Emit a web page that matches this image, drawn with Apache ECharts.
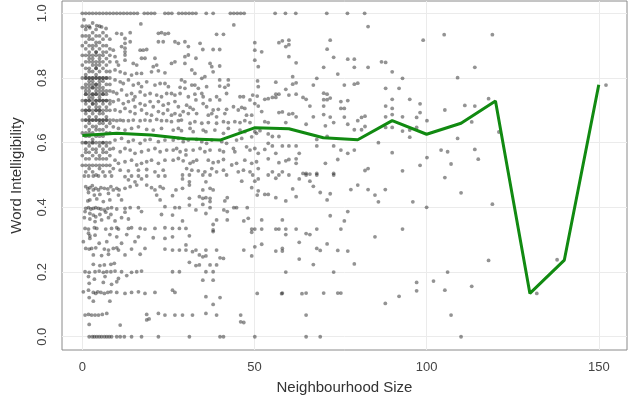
<!DOCTYPE html>
<html><head><meta charset="utf-8">
<script src="https://cdn.jsdelivr.net/npm/echarts@6/dist/echarts.min.js"></script>
<style>html,body{margin:0;padding:0;background:#fff}#c{width:640px;height:401px}</style>
</head><body><div id="c"></div>
<script>
// ---- tick labels ----
const xTicks = [0, 50, 100, 150];
const yTicks = [0.0, 0.2, 0.4, 0.6, 0.8, 1.0];

// ---- smoothed line (green) ----
const lineX = [0, 10, 20, 30, 40, 50, 60, 70, 80, 90, 100, 110, 120, 130, 140, 150];
const lineY = [0.622, 0.629, 0.624, 0.612, 0.608, 0.646, 0.643, 0.615, 0.609, 0.668, 0.626, 0.66, 0.729, 0.134, 0.237, 0.779];

// ---- scatter: dense core columns, x = 0..8, y >= 0.5 ----
const coreColumns = [
  [0, [0.96, 0.93, 0.9, 0.87, 0.84, 0.8, 0.77, 0.73, 0.7, 0.67, 0.63, 0.6, 0.56, 0.53]],
  [1, [0.95, 0.93, 0.91, 0.89, 0.87, 0.85, 0.83, 0.81, 0.8, 0.78, 0.76, 0.75, 0.73, 0.72, 0.7, 0.69, 0.67, 0.65, 0.63, 0.62, 0.6, 0.58, 0.57, 0.55, 0.53, 0.51]],
  [2, [0.96, 0.93, 0.92, 0.9, 0.88, 0.86, 0.85, 0.83, 0.82, 0.8, 0.79, 0.77, 0.76, 0.74, 0.73, 0.71, 0.7, 0.68, 0.67, 0.66, 0.64, 0.62, 0.6, 0.59, 0.57, 0.55, 0.53, 0.52]],
  [3, [0.97, 0.94, 0.92, 0.9, 0.89, 0.87, 0.86, 0.84, 0.82, 0.8, 0.79, 0.78, 0.77, 0.75, 0.74, 0.73, 0.72, 0.7, 0.69, 0.67, 0.65, 0.63, 0.61, 0.6, 0.58, 0.56, 0.53, 0.51]],
  [4, [0.95, 0.93, 0.91, 0.9, 0.88, 0.87, 0.85, 0.84, 0.83, 0.81, 0.8, 0.78, 0.77, 0.76, 0.75, 0.73, 0.72, 0.71, 0.7, 0.68, 0.67, 0.65, 0.64, 0.62, 0.6, 0.58, 0.57, 0.55, 0.53, 0.5]],
  [5, [0.96, 0.93, 0.91, 0.89, 0.87, 0.86, 0.84, 0.82, 0.8, 0.79, 0.78, 0.76, 0.75, 0.74, 0.73, 0.71, 0.7, 0.69, 0.67, 0.66, 0.64, 0.62, 0.6, 0.59, 0.56, 0.55, 0.53, 0.52]],
  [6, [0.94, 0.92, 0.9, 0.88, 0.87, 0.85, 0.83, 0.8, 0.79, 0.77, 0.76, 0.75, 0.73, 0.72, 0.7, 0.69, 0.67, 0.66, 0.64, 0.62, 0.6, 0.58, 0.57, 0.55, 0.53, 0.51]],
  [7, [0.93, 0.9, 0.88, 0.86, 0.84, 0.82, 0.8, 0.78, 0.76, 0.75, 0.73, 0.71, 0.7, 0.68, 0.67, 0.65, 0.63, 0.6, 0.59, 0.57, 0.55, 0.53]],
  [8, [0.92, 0.89, 0.87, 0.85, 0.82, 0.8, 0.78, 0.76, 0.73, 0.72, 0.7, 0.67, 0.66, 0.63, 0.6, 0.58, 0.56, 0.53, 0.51]]
];

// ---- scatter: repeated values in the darkest part of the core ----
const coreDark = [
  [1, [0.8, 0.77, 0.75, 0.73, 0.7, 0.67, 0.6]],
  [2, [0.87, 0.8, 0.78, 0.75, 0.73, 0.7, 0.67, 0.63]],
  [3, [0.85, 0.8, 0.77, 0.75, 0.72, 0.67, 0.6]],
  [4, [0.88, 0.83, 0.8, 0.78, 0.75, 0.73, 0.7, 0.67]],
  [5, [0.85, 0.8, 0.77, 0.73, 0.7, 0.67]],
  [6, [0.8, 0.75, 0.73, 0.67, 0.6]],
  [7, [0.8, 0.73, 0.67]]
];

// ---- scatter: points at intelligibility 1.0 ----
const topRowX = [0, 1, 2, 3, 4, 5, 6, 7, 8, 9, 10, 11, 12, 13, 14, 15, 16, 18, 19, 20, 21, 24, 25, 26, 28, 29, 30, 31, 32, 33, 36, 38, 43, 44, 45, 46, 47, 56, 59, 62, 71, 77, 82];

// ---- scatter: x 9-25, upper half ----
const upperLeft = [
  [17.0,0.967],[10.0,0.938],[11.4,0.936],[13.9,0.940],[12.4,0.922],[12.4,0.907],[11.4,0.897],[13.9,0.912],[9.0,0.886],
  [12.4,0.892],[12.4,0.881],[12.4,0.871],[12.4,0.855],[9.5,0.866],[10.0,0.850],[10.5,0.840],[16.8,0.886],[17.7,0.886],[18.7,0.888],
  [17.2,0.861],[18.2,0.861],[22.1,0.938],[23.0,0.940],[24.0,0.936],[25.0,0.938],[22.1,0.912],[23.5,0.912],[21.1,0.861],
  [14.8,0.845],[15.8,0.840],[20.6,0.835],[21.6,0.840],[9.5,0.825],[11.0,0.819],[12.4,0.814],[14.3,0.809],[15.8,0.814],[17.2,0.814],
  [20.1,0.819],[22.1,0.822],[24.0,0.816],[9.5,0.794],[11.0,0.788],[11.9,0.783],[13.4,0.794],[14.8,0.778],[16.3,0.783],[17.2,0.773],[18.7,0.788],
  [21.1,0.778],[22.6,0.783],[24.0,0.783],[25.0,0.773],[9.0,0.757],[10.0,0.752],[11.4,0.763],[12.9,0.747],[14.3,0.752],[15.3,0.742],[16.8,0.757],
  [18.2,0.747],[19.7,0.752],[21.6,0.747],[23.0,0.742],[24.5,0.752],[9.0,0.727],[10.5,0.732],[11.9,0.721],[13.4,0.727],[14.8,0.732],[15.3,0.711],
  [16.8,0.721],[18.2,0.716],[19.7,0.727],[20.6,0.711],[22.1,0.727],[23.5,0.716],[25.0,0.721],[9.5,0.701],[11.0,0.696],[12.4,0.706],[13.9,0.696],
  [15.3,0.690],[17.2,0.701],[18.7,0.690],[20.1,0.685],[22.1,0.696],[23.5,0.690],[24.8,0.701],
  [9.0,0.670],[10.0,0.668],[11.0,0.670],[11.9,0.668],[13.4,0.668],[14.8,0.670],[16.8,0.668],[18.2,0.670],[19.7,0.668],[21.6,0.672],[23.0,0.668],[24.5,0.668],
  [9.0,0.649],[10.5,0.644],[12.4,0.639],[14.3,0.644],[16.3,0.649],[18.7,0.641],[20.6,0.639],[23.0,0.644],
  [9.5,0.608],[11.4,0.613],[13.4,0.603],[14.8,0.608],[16.8,0.598],[18.2,0.608],[19.7,0.610],[22.1,0.603],[24.0,0.608],
  [9.0,0.582],[11.0,0.572],[12.4,0.582],[13.9,0.577],[15.3,0.567],[17.2,0.572],[19.2,0.577],[21.1,0.582],[22.6,0.572],[24.5,0.577],
  [9.5,0.546],[10.5,0.536],[12.4,0.541],[14.3,0.546],[15.8,0.531],[17.2,0.536],[18.7,0.541],[20.1,0.546],[22.1,0.536],[24.0,0.546],
  [9.0,0.520],[11.0,0.515],[13.4,0.513],[16.3,0.515],[18.7,0.517],[21.1,0.510],[23.5,0.515],
  [1.1,0.96],[2.2,0.955],[4.2,0.962],[5.6,0.958],[6.9,0.953],[0.5,0.98]
];

// ---- scatter: x 0-25, lower half ----
const lowerLeft = [
  [0.6,0.497],[1.8,0.497],[3.2,0.497],[4.7,0.497],[6.6,0.497],[8.5,0.497],[12.4,0.495],[14.3,0.497],[16.3,0.497],[18.7,0.497],[22.1,0.497],[24.0,0.497],
  [13.4,0.485],[15.3,0.479],[17.2,0.488],
  [1.0,0.464],[1.6,0.457],[2.2,0.461],[2.9,0.467],[3.2,0.454],[3.9,0.459],[4.7,0.454],[5.4,0.461],[6.4,0.459],[7.4,0.457],[8.3,0.464],[9.0,0.454],
  [10.0,0.459],[10.7,0.454],[12.4,0.459],[13.9,0.464],[15.8,0.469],[18.7,0.469],[20.1,0.461],[21.1,0.454],[22.6,0.464],[23.5,0.459],
  [1.8,0.446],[3.5,0.438],[5.1,0.440],[7.6,0.443],[10.5,0.438],[21.6,0.438],
  [1.6,0.420],[2.2,0.423],[4.2,0.426],[6.1,0.418],[8.0,0.423],[11.4,0.423],[22.6,0.423],
  [1.0,0.397],[1.8,0.399],[2.5,0.395],[3.2,0.397],[3.9,0.399],[4.7,0.397],[5.4,0.395],[6.4,0.392],[7.4,0.397],[8.5,0.399],[10.0,0.395],[12.4,0.397],[13.9,0.399],[16.3,0.399],[24.0,0.402],
  [0.8,0.387],[2.2,0.381],[3.2,0.376],[3.9,0.371],[5.1,0.378],[6.8,0.385],[8.3,0.378],[12.4,0.385],[17.2,0.387],[23.0,0.378],
  [0.6,0.368],[2.2,0.364],[3.7,0.356],[5.6,0.361],[7.6,0.368],[9.5,0.358],[11.4,0.368],[13.4,0.364],
  [0.8,0.335],[1.8,0.333],[3.5,0.337],[4.2,0.335],[6.8,0.333],[8.5,0.335],[10.0,0.337],[10.5,0.333],[13.4,0.335],[14.3,0.337],[16.8,0.335],[18.2,0.333],[21.1,0.335],[24.0,0.337],
  [1.8,0.320],[2.2,0.312],[2.2,0.304],[3.7,0.314],[8.0,0.316],[10.0,0.309],[12.9,0.316],[16.3,0.309],[20.6,0.306],[24.0,0.304],
  [0.3,0.294],[4.9,0.289],[7.1,0.294],[11.4,0.289],[15.3,0.294],
  [1.0,0.273],[2.0,0.271],[2.7,0.273],[3.9,0.275],[6.4,0.271],[7.6,0.268],[9.0,0.273],[10.0,0.275],[10.5,0.268],[14.3,0.271],[18.2,0.273],[24.0,0.271],
  [3.2,0.253],[5.6,0.251],[7.6,0.255],[12.4,0.253],[16.8,0.255],
  [3.2,0.224],[5.1,0.220],[6.4,0.222],[8.3,0.224],[9.3,0.227],
  [0.8,0.201],[2.0,0.199],[3.7,0.201],[4.9,0.203],[6.1,0.199],[7.1,0.201],[8.3,0.201],[9.5,0.203],[11.4,0.201],[14.3,0.199],[15.8,0.201],[17.2,0.203],
  [1.8,0.186],[3.5,0.178],[6.6,0.186],[10.5,0.180],[12.9,0.189],
  [2.0,0.165],[6.1,0.168],[8.5,0.162],[10.0,0.170],
  [0.3,0.139],[1.8,0.144],[3.2,0.137],[3.9,0.134],[4.5,0.139],[5.4,0.137],[6.4,0.134],[7.4,0.137],[8.3,0.139],[10.0,0.137],[12.4,0.134],[14.3,0.137],[16.3,0.139],[18.2,0.134],[21.1,0.137],
  [2.0,0.121],[3.2,0.110],[8.0,0.110],
  [0.8,0.067],[1.8,0.069],[2.7,0.067],[3.7,0.067],[4.7,0.067],[5.8,0.069],[7.1,0.072],[18.7,0.069],[18.7,0.052],[19.4,0.055],[22.1,0.072],[24.0,0.067],
  [2.0,0.038],[11.0,0.036],
  [2.0,0],[2.9,0],[3.5,0],[4.2,0],[4.9,0],[5.6,0],[6.4,0],[7.1,0],[7.8,0],[8.5,0],[10.0,0],[11.0,0],[12.2,0],[14.3,0],[17.2,0],[22.1,0]
];

// ---- scatter: x 25-53 ----
const middle = [
  [44.0,0.964],[39.0,0.935],[41.0,0.935],[26.9,0.912],[27.9,0.907],[29.8,0.912],[30.8,0.897],[34.2,0.907],[35.0,0.888],[38.0,0.888],[39.9,0.888],
  [50.1,0.909],[50.1,0.886],[52.1,0.881],[25.9,0.845],[26.9,0.850],[29.8,0.866],[30.8,0.871],[33.0,0.861],[37.1,0.845],[37.6,0.835],[38.0,0.819],
  [39.9,0.837],[29.8,0.845],[50.1,0.855],[51.1,0.835],[31.8,0.825],[32.7,0.814],[28.8,0.794],[29.8,0.788],[34.7,0.799],[35.6,0.804],[39.9,0.794],
  [42.4,0.794],[50.9,0.791],[51.1,0.773],[28.4,0.771],[29.8,0.768],[31.8,0.778],[32.7,0.778],[33.7,0.768],[36.1,0.773],[39.9,0.775],[41.4,0.771],
  [42.4,0.778],[25.9,0.752],[26.9,0.747],[28.4,0.752],[30.8,0.742],[32.7,0.750],[34.7,0.752],[35.1,0.742],[37.1,0.732],[39.0,0.742],[39.9,0.732],
  [41.9,0.752],[45.8,0.742],[46.8,0.742],[48.7,0.732],[49.5,0.747],[50.8,0.744],[26.9,0.727],[27.9,0.711],[30.3,0.716],[31.3,0.709],[32.2,0.703],
  [33.0,0.732],[35.1,0.721],[36.1,0.711],[38.0,0.701],[39.5,0.703],[41.9,0.703],[43.9,0.711],[45.3,0.701],[46.3,0.709],[47.2,0.706],[50.1,0.721],
  [51.1,0.713],[25.9,0.685],[26.9,0.690],[28.4,0.685],[29.3,0.696],[30.8,0.690],[33.2,0.690],[36.6,0.685],[37.6,0.690],[39.0,0.680],[41.4,0.690],
  [47.7,0.685],[49.2,0.685],[52.1,0.696],[25.9,0.665],[27.9,0.668],[28.8,0.670],[31.3,0.660],[32.7,0.665],[34.7,0.660],[36.6,0.662],[39.0,0.660],
  [41.0,0.665],[42.4,0.662],[44.3,0.665],[45.8,0.662],[47.2,0.668],[48.7,0.662],[26.4,0.639],[27.9,0.644],[28.8,0.637],[31.3,0.644],[32.2,0.634],
  [35.1,0.639],[35.9,0.634],[38.5,0.639],[41.0,0.629],[42.4,0.644],[45.8,0.639],[47.2,0.634],[50.1,0.634],[51.6,0.637],[26.4,0.608],[27.9,0.613],
  [29.3,0.603],[30.8,0.608],[33.2,0.610],[34.7,0.603],[36.1,0.598],[37.6,0.608],[40.5,0.603],[41.9,0.598],[44.8,0.608],[46.3,0.613],[49.2,0.618],
  [50.6,0.629],[26.4,0.577],[27.4,0.582],[28.4,0.572],[30.1,0.577],[30.1,0.562],[32.2,0.577],[34.2,0.582],[35.6,0.572],[37.1,0.577],[39.9,0.577],
  [41.0,0.572],[43.9,0.582],[44.3,0.572],[47.7,0.587],[48.7,0.577],[50.1,0.582],[51.1,0.567],[26.4,0.546],[27.9,0.551],[29.3,0.544],[31.3,0.536],
  [32.2,0.541],[33.2,0.546],[36.6,0.546],[38.0,0.538],[39.5,0.541],[41.0,0.548],[43.4,0.531],[44.8,0.536],[47.2,0.546],[49.2,0.536],[50.6,0.541],
  [30.3,0.520],[31.8,0.515],[33.7,0.513],[35.6,0.510],[37.6,0.520],[39.0,0.510],[41.0,0.515],[45.3,0.510],[46.8,0.515],[48.7,0.510],[51.1,0.520],
  [29.1,0.5],[31.1,0.5],[35.0,0.5],[37.1,0.5],[41.9,0.5],[49.5,0.5],[29.1,0.488],[31.1,0.479],[35.9,0.479],[46.3,0.481],[50.1,0.481],[51.1,0.488],
  [27.2,0.454],[29.1,0.459],[31.1,0.469],[35.0,0.454],[37.1,0.459],[38.0,0.454],[49.2,0.461],[51.1,0.451],[26.2,0.436],[31.1,0.428],[34.0,0.433],
  [35.0,0.428],[35.9,0.430],[37.1,0.428],[37.1,0.418],[41.4,0.420],[42.1,0.430],[50.8,0.438],[26.9,0.399],[28.2,0.399],[31.1,0.407],[33.0,0.392],
  [35.0,0.409],[37.1,0.399],[35.9,0.381],[41.1,0.392],[42.1,0.387],[44.0,0.399],[44.8,0.399],[47.9,0.399],[26.2,0.376],[29.1,0.358],[38.0,0.347],
  [39.0,0.361],[42.1,0.361],[46.9,0.358],[48.2,0.366],[49.2,0.333],[50.1,0.333],[49.2,0.323],[52.1,0.361],[52.1,0.333],[26.2,0.335],[28.2,0.335],
  [30.1,0.335],[38.0,0.330],[26.2,0.309],[31.1,0.312],[38.0,0.325],[30.1,0.284],[30.1,0.268],[28.2,0.268],[26.2,0.268],[32.0,0.263],[33.0,0.268],
  [34.0,0.253],[35.0,0.247],[35.9,0.250],[35.9,0.268],[39.0,0.268],[40.0,0.244],[41.0,0.242],[31.1,0.230],[33.0,0.220],[34.0,0.222],[37.1,0.222],
  [39.0,0.222],[46.9,0.268],[49.2,0.250],[50.1,0.278],[52.1,0.286],[26.2,0.201],[28.2,0.201],[35.9,0.201],[38.0,0.201],[35.0,0.175],[38.0,0.175],
  [26.2,0.144],[26.9,0.137],[50.8,0.134],[35.9,0.124],[40.0,0.121],[38.0,0.100],[26.9,0.067],[29.1,0.067],[32.0,0.067],[35.9,0.072],[39.0,0.067],
  [46.0,0.067],[46.0,0.046],[46.9,0.044],[31.1,0],[40.0,0],[41.0,0],[50.1,0]
];

// ---- scatter: x 53-105 ----
const sparseRight = [
  [83.0,0.959],[99.0,0.917],[57.1,0.909],[58.1,0.915],[60.0,0.917],[60.0,0.903],[59.1,0.897],[72.0,0.917],[71.1,0.889],[60.0,0.866],[62.1,0.847],
  [73.0,0.864],[77.1,0.858],[79.0,0.858],[86.9,0.850],[88.1,0.848],[70.1,0.833],[79.0,0.833],[83.0,0.833],[90.0,0.819],[74.2,0.812],[61.1,0.804],
  [68.1,0.799],[93.0,0.799],[56.2,0.787],[61.1,0.781],[62.1,0.785],[67.1,0.778],[76.1,0.778],[79.0,0.781],[80.0,0.784],[88.1,0.768],[92.0,0.768],
  [59.1,0.765],[70.1,0.753],[71.1,0.750],[56.2,0.750],[57.1,0.750],[55.2,0.740],[56.2,0.740],[60.0,0.747],[62.1,0.750],[64.1,0.740],[65.0,0.734],
  [70.1,0.733],[71.1,0.733],[72.0,0.738],[75.1,0.727],[77.1,0.730],[95.1,0.734],[53.0,0.734],[54.0,0.736],[66.1,0.713],[70.1,0.713],[75.1,0.706],
  [76.1,0.706],[90.0,0.734],[98.1,0.720],[88.1,0.713],[90.0,0.706],[57.1,0.693],[58.1,0.695],[60.0,0.688],[61.1,0.690],[62.1,0.680],[67.1,0.680],
  [70.1,0.687],[72.0,0.679],[76.1,0.679],[81.1,0.678],[82.1,0.682],[80.0,0.668],[88.1,0.680],[90.0,0.687],[93.0,0.680],[97.1,0.678],[98.1,0.693],
  [100.1,0.668],[53.0,0.665],[54.0,0.662],[59.1,0.662],[65.0,0.657],[70.6,0.652],[77.1,0.657],[73.0,0.662],[79.0,0.640],[81.1,0.640],[82.1,0.650],
  [88.1,0.647],[90.0,0.647],[93.0,0.636],[95.1,0.639],[97.1,0.647],[54.0,0.627],[55.2,0.619],[57.1,0.619],[54.0,0.598],[55.2,0.590],[58.1,0.590],
  [60.0,0.590],[62.1,0.590],[68.1,0.610],[68.1,0.590],[71.1,0.619],[73.0,0.590],[75.1,0.577],[77.1,0.567],[79.0,0.577],[86.0,0.600],[95.1,0.617],
  [90.0,0.569],[100.1,0.554],[104.2,0.577],[53.0,0.579],[56.2,0.567],[54.0,0.550],[59.1,0.544],[60.0,0.548],[62.1,0.550],[57.1,0.538],[62.1,0.536],
  [63.0,0.567],[70.6,0.536],[74.2,0.548],[55.2,0.510],[58.1,0.510],[64.1,0.505],[65.0,0.505],[66.1,0.503],[68.1,0.505],[73.0,0.505],[82.1,0.514],
  [83.0,0.520],[93.0,0.513],[98.1,0.530],
  [54.0,0.5],[57.1,0.5],[60.0,0.5],[65.0,0.5],[68.1,0.5],[73.0,0.5],[56.2,0.490],[63.0,0.488],[66.1,0.481],[67.1,0.465],[80.0,0.469],[53.0,0.440],
  [54.0,0.440],[56.2,0.430],[59.1,0.420],[61.1,0.457],[62.1,0.433],[69.1,0.446],[71.1,0.423],[72.0,0.442],[78.0,0.455],[83.0,0.455],[85.0,0.438],
  [86.0,0.417],[88.0,0.455],[96.0,0.417],[100.0,0.400],[58.1,0.361],[77.1,0.387],[72.0,0.374],[76.1,0.358],[56.2,0.333],[57.1,0.333],[59.1,0.333],
  [62.1,0.333],[68.1,0.333],[75.1,0.333],[93.0,0.333],[59.1,0.316],[65.0,0.319],[66.1,0.316],[85.0,0.309],[63.0,0.292],[68.1,0.273],[69.1,0.267],
  [71.1,0.287],[56.2,0.265],[58.1,0.273],[58.1,0.265],[74.2,0.267],[77.1,0.265],[63.0,0.240],[67.1,0.223],[79.0,0.225],[59.1,0.200],[73.0,0.200],
  [97.1,0.168],[102.0,0.172],[58.1,0.135],[65.0,0.135],[70.1,0.135],[74.2,0.135],[75.1,0.135],[97.1,0.142],[88.0,0.103],[92.0,0.125],[65.0,0.067],
  [65.0,0],[69.1,0],[57.9,0.133],[63.8,0.133]
];

// ---- scatter: x > 105 ----
const farRight = [
  [105.1,0.934],[119.1,0.934],[114.0,0.833],[109.0,0.801],[118.0,0.736],[111.1,0.715],[114.0,0.713],[105.3,0.701],[113.1,0.664],[121.0,0.633],
  [109.0,0.613],[106.1,0.572],[114.0,0.579],[115.0,0.549],[107.1,0.534],[105.3,0.492],[110.0,0.445],[119.1,0.410],[118.0,0.236],[106.1,0.200],
  [105.3,0.144],[113.1,0.156],[107.1,0.067],[110.0,0.0],[137.9,0.238],[132.0,0.134],[152.1,0.778]
];

// ---- build data ----
const scatterData = [];
coreColumns.forEach(([x, ys]) => ys.forEach(y => scatterData.push([x, y])));
coreDark.forEach(([x, ys]) => ys.forEach(y => scatterData.push([x, y])));
topRowX.forEach(x => scatterData.push([x, 1.0]));
[upperLeft, lowerLeft, middle, sparseRight, farRight].forEach(arr => arr.forEach(p => scatterData.push(p)));
const lineData = lineX.map((x, i) => [x, lineY[i]]);

const chart = echarts.init(document.getElementById('c'), null, {renderer: 'canvas'});
const font = 'Liberation Sans, Arial, sans-serif';
chart.setOption({
  animation: false,
  backgroundColor: '#fff',
  grid: {left: 62, right: 13, top: 1, bottom: 51, show: true, borderColor: '#8a8a8a', borderWidth: 1, backgroundColor: 'transparent'},
  xAxis: {
    type: 'value', min: -5.9, max: 158.2,
    name: 'Neighbourhood Size', nameLocation: 'middle', nameGap: 30,
    nameTextStyle: {fontFamily: font, fontSize: 15, color: '#333'},
    axisLine: {show: false},
    axisTick: {show: true, customValues: xTicks, length: 5, lineStyle: {color: '#666'}},
    axisLabel: {customValues: xTicks, fontFamily: font, fontSize: 13, color: '#444', margin: 11},
    splitLine: {show: false}
  },
  yAxis: {
    type: 'value', min: -0.041, max: 1.038,
    name: 'Word Intelligibility', nameLocation: 'middle', nameGap: 38,
    nameTextStyle: {fontFamily: font, fontSize: 15, color: '#333'},
    axisLine: {show: false},
    axisTick: {show: true, customValues: yTicks, length: 5, lineStyle: {color: '#666'}},
    axisLabel: {customValues: yTicks, rotate: 90, fontFamily: font, fontSize: 13, color: '#444', margin: 13,
      formatter: v => v.toFixed(1)},
    splitLine: {show: false}
  },
  series: [
    {
      type: 'line', data: [], z: 1, silent: true,
      markLine: {
        z: 1, silent: true, symbol: 'none', label: {show: false}, animation: false,
        lineStyle: {color: '#ebebeb', width: 1, type: 'solid'},
        data: xTicks.map(v => ({xAxis: v})).concat(yTicks.map(v => ({yAxis: v})))
      }
    },
    {
      type: 'scatter', data: scatterData, z: 2, symbol: 'circle', symbolSize: 3.8, large: false,
      itemStyle: {color: 'rgba(30,30,30,0.6)', borderWidth: 0}
    },
    {
      type: 'line', data: lineData, z: 3, symbol: 'none', smooth: false,
      lineStyle: {color: '#118a11', width: 3}
    }
  ]
});
</script></body></html>
